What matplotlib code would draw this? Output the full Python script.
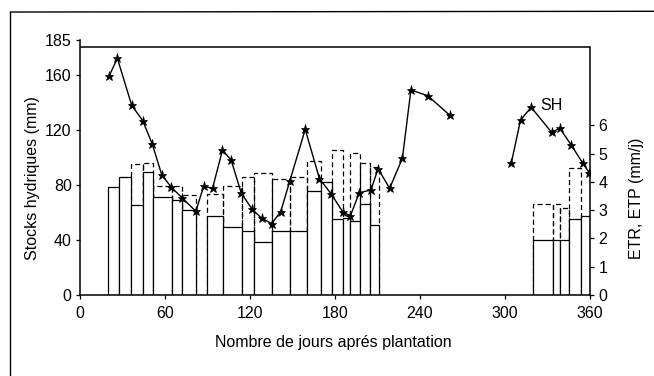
import matplotlib
matplotlib.use("Agg")
import matplotlib.pyplot as plt
import numpy as np
from matplotlib.lines import Line2D

plt.rcParams["font.family"] = ["Liberation Sans", "DejaVu Sans"]

# ── data ─────────────────────────────────────────────────────────────────────
# ETR (solid) / ETP (dashed) bars, mm/j, each bar spans [left, right] days
BAR_LEFT  = [20, 27.8, 35.8, 44.3, 51.8, 65, 71.9, 89.5, 100.8, 114.3,
             122.5, 135.5, 148.4, 160.2, 170.1, 177.9, 185.7, 190.3, 197.9, 204.9,
             319.5, 334, 338.9, 345.1, 353.4]
BAR_RIGHT = [27.8, 35.8, 44.3, 51.8, 65, 71.9, 82, 100.8, 114.3, 122.5,
             135.5, 148.4, 160.2, 170.1, 177.9, 185.7, 190.3, 197.9, 204.9, 211.3,
             334, 338.9, 345.1, 353.4, 360]
ETR = [3.83, 4.16, 3.17, 4.36, 3.45, 3.36, 3.00, 2.79, 2.39, 2.26,
       1.88, 2.27, 2.27, 3.69, 4.00, 2.69, 2.72, 2.61, 3.20, 2.46,
       1.96, 1.96, 1.96, 2.67, 2.79]
ETP = [np.nan, np.nan, 4.62, 4.65, 3.85, 3.85, 3.53, 3.57, 3.86, 4.18,
       4.32, 4.09, 4.18, 4.75, np.nan, 5.12, np.nan, 5.01, 4.67, 4.53,
       3.22, 3.22, 3.06, 4.48, np.nan]

# SH : stocks hydriques (mm), two separate runs
SH_DAY_1 = [20.5, 26.4, 36.5, 44.3, 51.1, 57.7, 64.5, 71.9, 81.8, 87.3,
            93.6, 100.6, 106.7, 113.9, 121.6, 128.3, 135.3, 141.7, 148.1, 159.0,
            169.0, 177.4, 185.4, 190.8, 197.2, 205.4, 210.4, 218.6, 227.6, 233.6,
            245.4, 260.9]
SH_VAL_1 = [159.0, 171.9, 137.8, 126.6, 109.4, 87.4, 78.2, 70.8, 60.8, 79.0,
            77.6, 105.3, 98.0, 73.9, 62.2, 55.7, 51.9, 60.5, 82.8, 120.3,
            84.6, 73.3, 60.5, 57.4, 74.3, 76.3, 91.7, 77.5, 99.3, 148.9,
            144.8, 130.7]
SH_DAY_2 = [304.4, 311.0, 318.5, 332.9, 338.7, 346.8, 355.0, 359.5]
SH_VAL_2 = [95.6, 127.1, 136.3, 118.2, 121.1, 108.9, 95.6, 88.8]

LEFT_TICKS  = [0, 40, 80, 120, 160, 185]
RIGHT_TICKS = [0, 1, 2, 3, 4, 5, 6]
X_TICKS     = [0, 60, 120, 180, 240, 300, 360]

LEFT_MAX, RIGHT_MAX, FRAME_TOP = 185, 9.0, 180

# ── figure ───────────────────────────────────────────────────────────────────
fig = plt.figure(figsize=(6.54, 3.76), dpi=100)
ax = fig.add_axes([0.1223, 0.2154, 0.7798, 0.6774])
ax2 = ax.twinx()
ax.set_zorder(ax2.get_zorder() + 1)
ax.patch.set_visible(False)

left = np.array(BAR_LEFT)
width = np.array(BAR_RIGHT) - left
ax2.bar(left, ETP, width=width, align="edge", facecolor="none",
        edgecolor="black", linestyle=(0, (4, 2.5)), linewidth=0.9, zorder=1)
ax2.bar(left, ETR, width=width, align="edge", facecolor="white",
        edgecolor="black", linewidth=0.9, zorder=2)

for d, v in [(SH_DAY_1, SH_VAL_1), (SH_DAY_2, SH_VAL_2)]:
    ax.plot(d, v, "-", color="black", lw=1.0, marker="*", ms=6.5,
            markerfacecolor="black", markeredgewidth=0.5)
ax.text(325, 138, "SH", fontsize=11.5, va="center", ha="left")

ax.axhline(FRAME_TOP, color="black", lw=1.1)

ax.set_xlim(0, 360)
ax.set_ylim(0, LEFT_MAX)
ax2.set_ylim(0, RIGHT_MAX)
ax.set_xticks(X_TICKS)
ax.set_yticks(LEFT_TICKS)
ax2.set_yticks(RIGHT_TICKS)

for s in ["top", "right"]:
    ax.spines[s].set_visible(False)
for s in ["top", "left", "bottom"]:
    ax2.spines[s].set_visible(False)
ax2.spines["right"].set_bounds(0, FRAME_TOP * RIGHT_MAX / LEFT_MAX)
for sp in list(ax.spines.values()) + [ax2.spines["right"]]:
    sp.set_linewidth(1.1)

ax.tick_params(axis="both", direction="out", length=3, width=0.9, labelsize=11.5)
ax.tick_params(axis="x", pad=5)
ax.tick_params(axis="y", pad=3)
ax2.tick_params(axis="y", direction="out", length=3, width=0.9, labelsize=11.5, pad=3)

fig.text(0.050, 0.527, "Stocks hydriques (mm)", rotation=90, fontsize=11.5,
         ha="center", va="center")
fig.text(0.974, 0.473, "ETR, ETP (mm/j)", rotation=90, fontsize=11.5,
         ha="center", va="center")
fig.text(0.509, 0.090, "Nombre de jours aprés plantation", fontsize=11.5,
         ha="center", va="center")

# scanned page frame (left and top edges)
fig.add_artist(Line2D([0.016, 0.016], [0.0, 0.968], color="black", lw=1.0))
fig.add_artist(Line2D([0.016, 1.0], [0.968, 0.970], color="black", lw=1.0))

fig.savefig("out.png", dpi=100)
